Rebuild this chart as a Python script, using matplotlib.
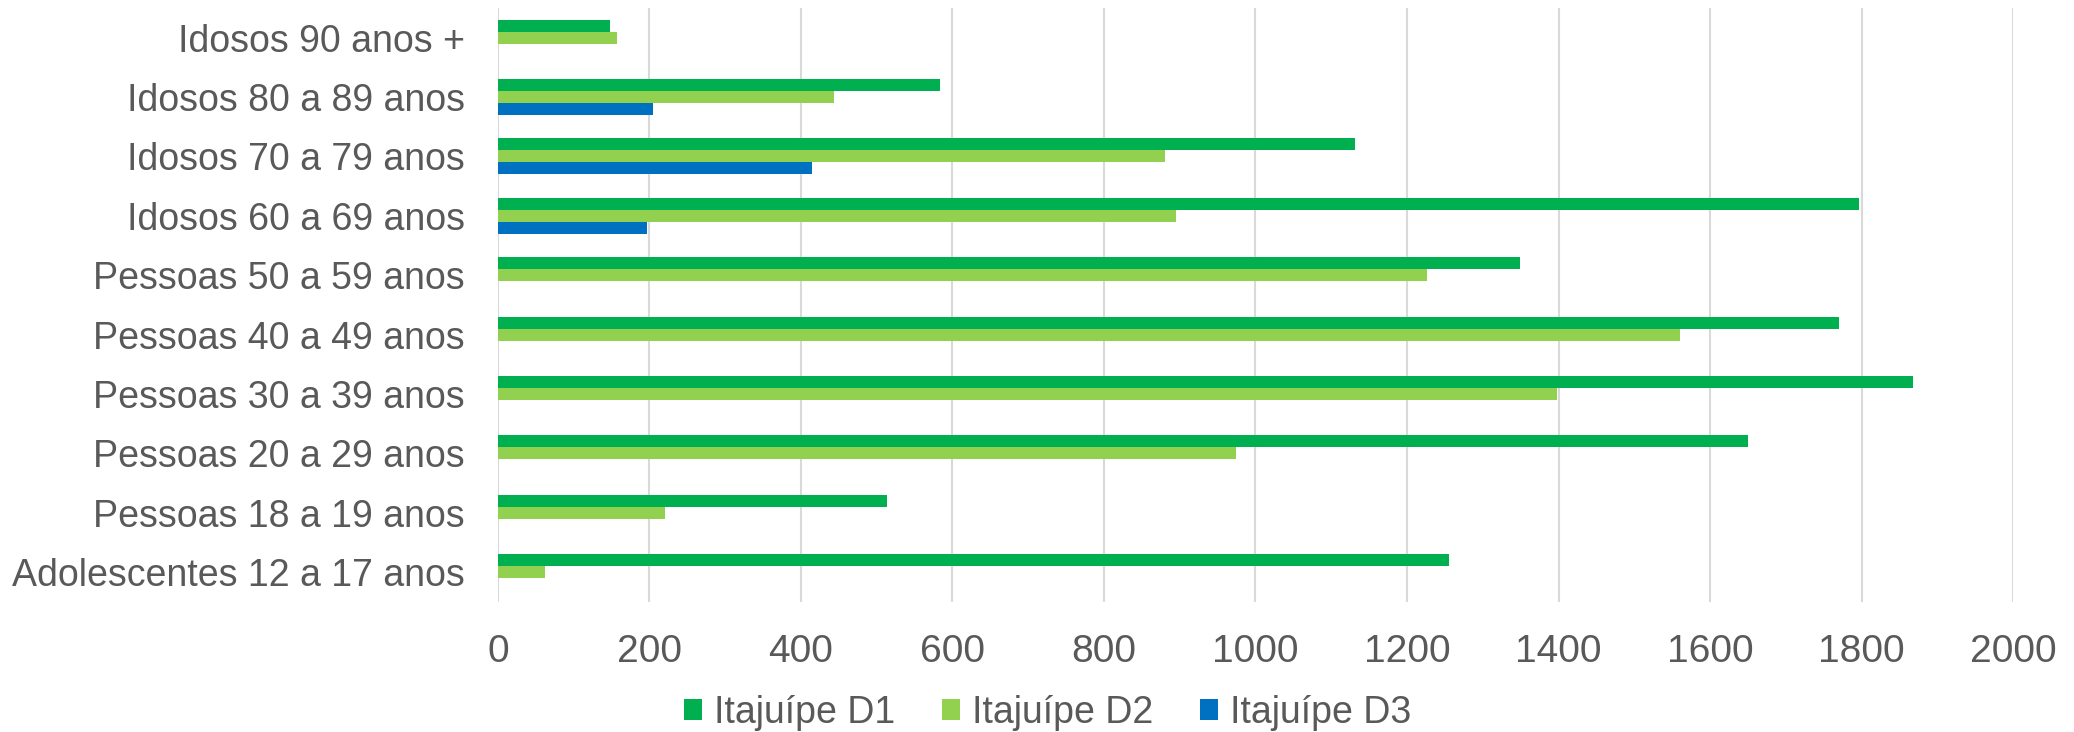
import matplotlib
matplotlib.use("Agg")
import matplotlib.pyplot as plt
from matplotlib.patches import Patch
import numpy as np

plt.rcParams['font.family'] = ['Liberation Sans', 'DejaVu Sans']

# categories bottom -> top
categories = ['Adolescentes 12 a 17 anos', 'Pessoas 18 a 19 anos', 'Pessoas 20 a 29 anos',
              'Pessoas 30 a 39 anos', 'Pessoas 40 a 49 anos', 'Pessoas 50 a 59 anos',
              'Idosos 60 a 69 anos', 'Idosos 70 a 79 anos', 'Idosos 80 a 89 anos',
              'Idosos 90 anos +']
d1 = [1255, 513, 1650, 1868, 1770, 1349, 1797, 1131, 583, 148]
d2 = [62, 220, 974, 1398, 1561, 1227, 895, 880, 444, 157]
d3 = [0, 0, 0, 0, 0, 0, 197, 415, 204, 0]
series_names = ['Itajuípe D1', 'Itajuípe D2', 'Itajuípe D3']
colors = ['#00B050', '#92D050', '#0070C0']
xticks = [0, 200, 400, 600, 800, 1000, 1200, 1400, 1600, 1800, 2000]

text_col = '#595959'

fig = plt.figure(figsize=(20.74, 7.32), dpi=100)
ax = fig.add_axes([0.2401, 0.1776, 0.7305, 0.8115])

y = np.arange(len(categories))
h = 0.202
for i, (vals, c) in enumerate(zip([d1, d2, d3], colors)):
    ax.barh(y + (1 - i) * h, vals, height=h, color=c, zorder=3)

ax.set_xlim(0, 2000)
ax.set_ylim(-0.5, len(categories) - 0.5)
ax.set_xticks(xticks)
ax.set_yticks(y)
ax.set_yticklabels(categories)
ax.tick_params(axis='both', length=0, labelsize=27, labelcolor=text_col)
ax.tick_params(axis='x', labelsize=28, pad=23)
ax.tick_params(axis='y', pad=24)
ax.grid(axis='x', color='#D9D9D9', linewidth=1.5, zorder=0)
for s in ax.spines.values():
    s.set_visible(False)

handles = [Patch(facecolor=c, label=n) for c, n in zip(colors, series_names)]
fig.legend(handles=handles, loc='center', bbox_to_anchor=(0.505, 0.026), ncol=3,
           frameon=False, fontsize=27, labelcolor=text_col,
           handlelength=0.48, handleheight=0.5, handletextpad=0.32,
           columnspacing=1.25, borderpad=0)

fig.savefig('out.png', dpi=100)
